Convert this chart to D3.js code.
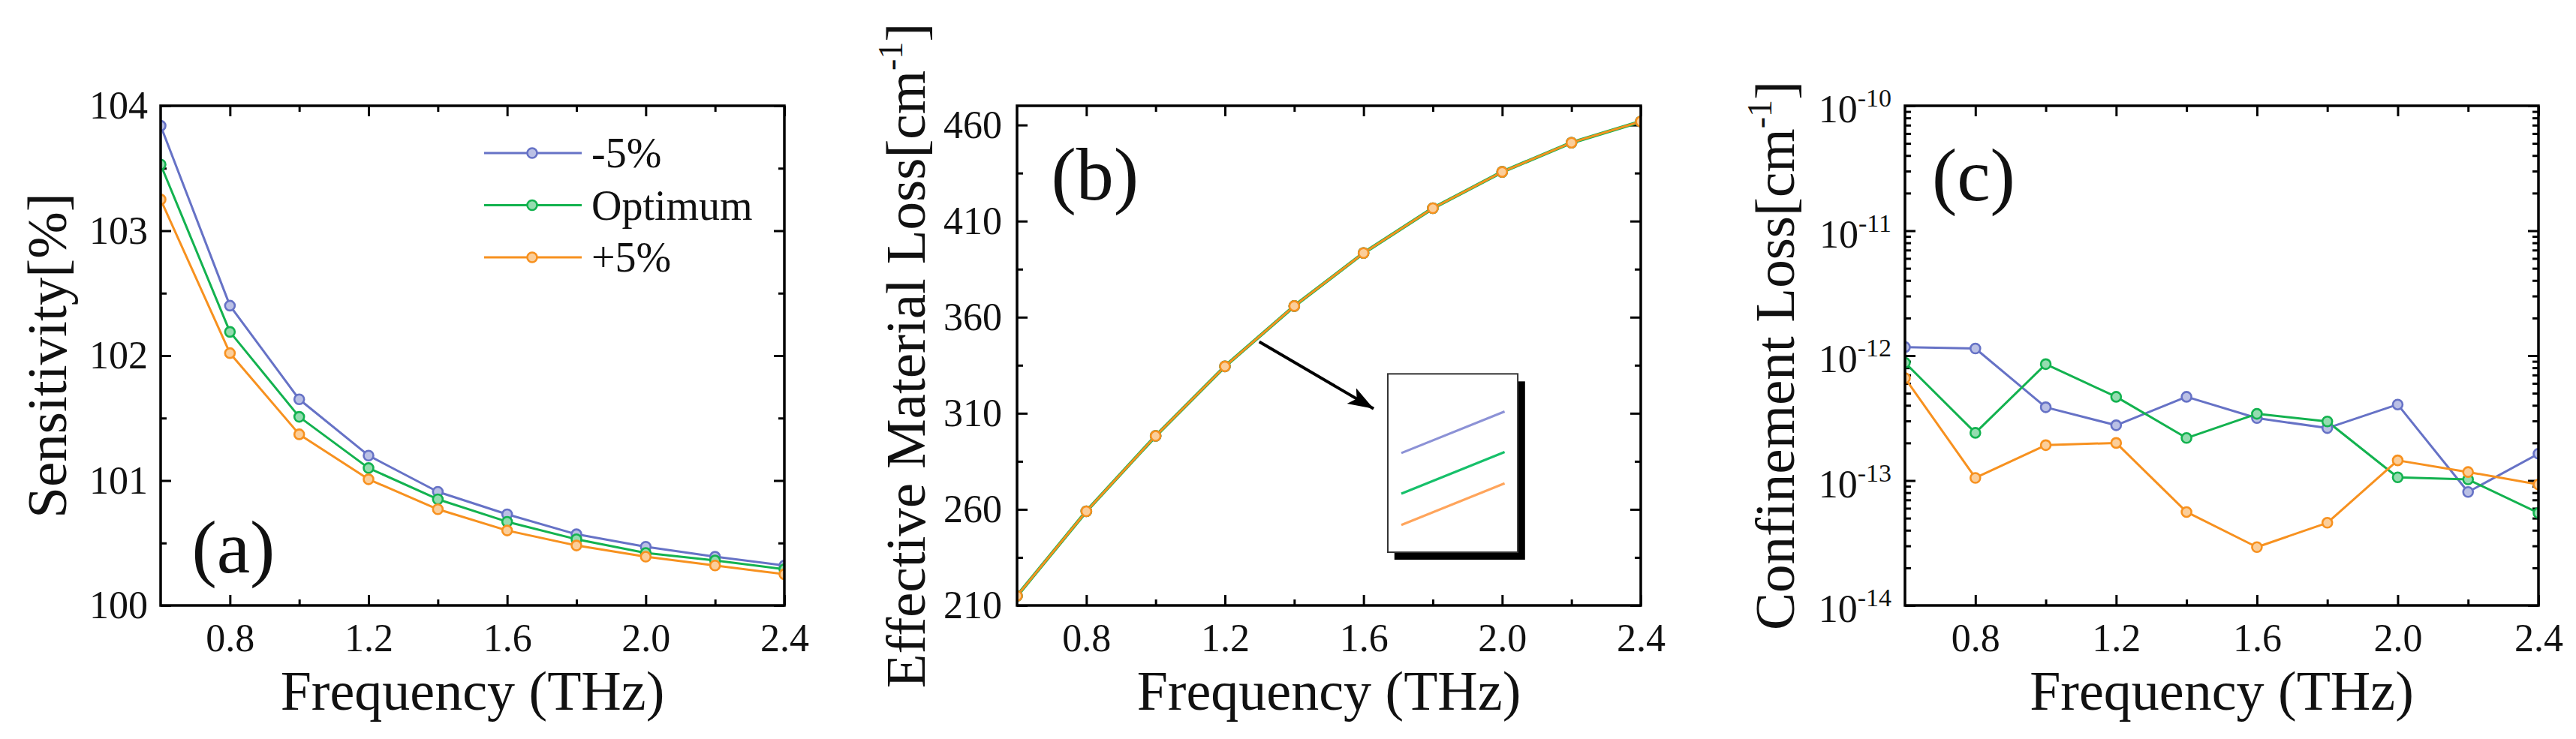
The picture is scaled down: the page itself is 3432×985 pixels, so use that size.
<!DOCTYPE html>
<html>
<head>
<meta charset="utf-8">
<script src="https://cdn.jsdelivr.net/npm/d3@7"></script>
<style>
  body { margin: 0; background: #fff; }
  text { font-family: "Liberation Serif", "Times New Roman", "DejaVu Serif", serif; fill: #111; }
</style>
</head>
<body>
<script>
// ---- data ----
const freq = [0.6, 0.8, 1.0, 1.2, 1.4, 1.6, 1.8, 2.0, 2.2, 2.4];
const seriesNames = ["-5%", "Optimum", "+5%"];
const seriesColors = ["#6672c6", "#13b24f", "#f7911f"];

// (a) sensitivity [%]
const sensMinus5 = [103.84, 102.40, 101.65, 101.20, 100.91, 100.73, 100.57, 100.47, 100.39, 100.32];
const sensOptimum = [103.53, 102.19, 101.51, 101.10, 100.85, 100.67, 100.53, 100.42, 100.36, 100.29];
const sensPlus5 = [103.25, 102.02, 101.37, 101.01, 100.77, 100.60, 100.48, 100.39, 100.32, 100.25];

// (b) effective material loss [cm^-1] (the three curves overlap)
const emlMinus5 = [215.0, 259.0, 298.2, 334.4, 365.8, 393.4, 416.7, 435.6, 450.8, 461.8];
const emlOptimum = [215.0, 259.0, 298.2, 334.4, 365.8, 393.4, 416.7, 435.6, 450.8, 461.8];
const emlPlus5 = [215.0, 259.0, 298.2, 334.4, 365.8, 393.4, 416.7, 435.6, 450.8, 461.8];

// (c) confinement loss [cm^-1]
const clMinus5 = [1.17e-12, 1.14e-12, 3.86e-13, 2.77e-13, 4.68e-13, 3.16e-13, 2.63e-13, 4.06e-13, 8.1e-14, 1.64e-13];
const clOptimum = [8.77e-13, 2.41e-13, 8.55e-13, 4.68e-13, 2.19e-13, 3.42e-13, 2.97e-13, 1.06e-13, 1.02e-13, 5.5e-14];
const clPlus5 = [6.6e-13, 1.05e-13, 1.92e-13, 2.0e-13, 5.6e-14, 2.93e-14, 4.59e-14, 1.45e-13, 1.17e-13, 9.3e-14];

// tick values
const xMajor = [0.8, 1.2, 1.6, 2.0, 2.4];
const xMinor = [1.0, 1.4, 1.8, 2.2];
const sensMajor = [100, 101, 102, 103, 104];
const sensMinor = [100.5, 101.5, 102.5, 103.5];
const emlMajor = [210, 260, 310, 360, 410, 460];
const emlMinor = [235, 285, 335, 385, 435];
const clMajor = [1e-14, 1e-13, 1e-12, 1e-11, 1e-10];

// ---- layout ----
const W = 3432, H = 985;
const plotTop = 141, plotBottom = 807;
const font = "Liberation Serif";

const svg = d3.select("body").append("svg")
    .attr("width", W)
    .attr("height", H);

const defs = svg.append("defs");
defs.append("marker")
    .attr("id", "arrowhead")
    .attr("markerUnits", "userSpaceOnUse")
    .attr("markerWidth", 36)
    .attr("markerHeight", 28)
    .attr("refX", 34)
    .attr("refY", 14)
    .attr("orient", "auto")
    .append("path")
    .attr("d", "M0,2 L34,14 L0,26 L8,14 Z")
    .attr("fill", "#000");

//Builds one panel and returns its scales
const buildPanel = (cfg) => {
    const g = svg.append("g");
    const x = d3.scaleLinear().domain([0.6, 2.4]).range([cfg.left, cfg.right]);
    const y = (cfg.log ? d3.scaleLog() : d3.scaleLinear())
        .domain(cfg.yDomain)
        .range([plotBottom, plotTop]);

    //Clip so the edge markers are cut by the frame like in the original
    defs.append("clipPath").attr("id", "clip-" + cfg.id)
        .append("rect")
        .attr("x", cfg.left).attr("y", plotTop)
        .attr("width", cfg.right - cfg.left).attr("height", plotBottom - plotTop);

    //Helper: add an axis and style it
    const addAxis = (axis, tx, ty) => {
        const a = g.append("g")
            .attr("transform", `translate(${tx},${ty})`)
            .call(axis);
        a.select(".domain").remove();
        a.selectAll(".tick line").attr("stroke", "#000").attr("stroke-width", 3);
        a.attr("font-family", font).attr("font-size", 52);
        a.selectAll(".tick text").attr("fill", "#111");
        return a;
    };

    const blank = () => "";
    // bottom / top x ticks
    addAxis(d3.axisBottom(x).tickValues(xMajor).tickSize(-14).tickSizeOuter(0)
        .tickPadding(24).tickFormat(d3.format(".1f")), 0, plotBottom);
    addAxis(d3.axisBottom(x).tickValues(xMinor).tickSize(-8).tickSizeOuter(0).tickFormat(blank), 0, plotBottom);
    addAxis(d3.axisTop(x).tickValues(xMajor).tickSize(-14).tickSizeOuter(0).tickFormat(blank), 0, plotTop);
    addAxis(d3.axisTop(x).tickValues(xMinor).tickSize(-8).tickSizeOuter(0).tickFormat(blank), 0, plotTop);

    // left / right y ticks
    const leftMajor = addAxis(d3.axisLeft(y).tickValues(cfg.yMajor).tickSize(-14).tickSizeOuter(0)
        .tickPadding(cfg.labelPad).tickFormat(cfg.log ? blank : d3.format("d")), cfg.left, 0);
    addAxis(d3.axisLeft(y).tickValues(cfg.yMinor).tickSize(-8).tickSizeOuter(0).tickFormat(blank), cfg.left, 0);
    addAxis(d3.axisRight(y).tickValues(cfg.yMajor).tickSize(-14).tickSizeOuter(0).tickFormat(blank), cfg.right, 0);
    addAxis(d3.axisRight(y).tickValues(cfg.yMinor).tickSize(-8).tickSizeOuter(0).tickFormat(blank), cfg.right, 0);

    if (cfg.log) {
        //Powers of ten with a raised exponent
        leftMajor.selectAll(".tick text").each(function (d) {
            const t = d3.select(this).text(null).attr("dy", "0.42em");
            t.append("tspan").text("10");
            t.append("tspan").attr("dy", "-0.62em").attr("font-size", 34)
                .text(Math.round(Math.log10(d)));
        });
    }

    //Series lines and markers
    const plot = g.append("g").attr("clip-path", `url(#clip-${cfg.id})`);
    const line = d3.line().x(d => x(d[0])).y(d => y(d[1]));
    cfg.series.forEach((vals, i) => {
        const pts = freq.map((f, j) => [f, vals[j]]);
        plot.append("path")
            .datum(pts)
            .attr("fill", "none")
            .attr("stroke", seriesColors[i])
            .attr("stroke-width", cfg.lineWidths ? cfg.lineWidths[i] : 3)
            .attr("stroke-linejoin", "round")
            .attr("d", line);
    });
    cfg.series.forEach((vals, i) => {
        const c = seriesColors[i];
        plot.append("g").selectAll("circle")
            .data(freq.map((f, j) => [f, vals[j]]))
            .join("circle")
            .attr("cx", d => x(d[0]))
            .attr("cy", d => y(d[1]))
            .attr("r", 6.5)
            .attr("fill", d3.interpolateRgb(c, "#fff")(0.55))
            .attr("stroke", c)
            .attr("stroke-width", 2.6);
    });

    //Frame
    g.append("rect")
        .attr("x", cfg.left).attr("y", plotTop)
        .attr("width", cfg.right - cfg.left).attr("height", plotBottom - plotTop)
        .attr("fill", "none").attr("stroke", "#000").attr("stroke-width", 3.5);

    //Axis titles
    g.append("text")
        .attr("x", (cfg.left + cfg.right) / 2).attr("y", 946)
        .attr("text-anchor", "middle").attr("font-size", 74)
        .text("Frequency (THz)");

    const yt = g.append("text")
        .attr("transform", `translate(${cfg.titleX},${(plotTop + plotBottom) / 2}) rotate(-90)`)
        .attr("text-anchor", "middle").attr("font-size", 75);
    yt.append("tspan").text(cfg.title);
    if (cfg.titleSup) {
        yt.append("tspan").attr("dy", -30).attr("font-size", 46).text(cfg.titleSup);
        yt.append("tspan").attr("dy", 30).text("]");
    }

    //Panel letter
    g.append("text")
        .attr("x", x(cfg.tag[1])).attr("y", y(cfg.tag[2]))
        .attr("dy", "0.33em")
        .attr("text-anchor", "middle").attr("font-size", 100)
        .text(cfg.tag[0]);

    return { g, x, y };
};

// (a)
const pa = buildPanel({
    id: "a", left: 214, right: 1045, yDomain: [100, 104],
    yMajor: sensMajor, yMinor: sensMinor, labelPad: 17,
    series: [sensMinus5, sensOptimum, sensPlus5],
    title: "Sensitivity[%]", titleX: 88,
    tag: ["(a)", 0.81, 100.46]
});

//Legend of (a)
const legend = pa.g.append("g");
seriesNames.forEach((name, i) => {
    const ly = plotTop + 63 + i * 69.5;
    const c = seriesColors[i];
    legend.append("line")
        .attr("x1", 645).attr("x2", 775).attr("y1", ly).attr("y2", ly)
        .attr("stroke", c).attr("stroke-width", 3);
    legend.append("circle")
        .attr("cx", 709).attr("cy", ly).attr("r", 6.5)
        .attr("fill", d3.interpolateRgb(c, "#fff")(0.55))
        .attr("stroke", c).attr("stroke-width", 2.6);
    legend.append("text")
        .attr("x", 788).attr("y", ly).attr("dy", "0.34em")
        .attr("font-size", 56)
        .text(name);
});

// (b)
const pb = buildPanel({
    id: "b", left: 1355, right: 2186, yDomain: [210, 470],
    yMajor: emlMajor, yMinor: emlMinor, labelPad: 20,
    series: [emlMinus5, emlOptimum, emlPlus5], lineWidths: [3, 4.6, 3],
    title: "Effective Material Loss[cm", titleSup: "-1", titleX: 1232,
    tag: ["(b)", 0.825, 434]
});

//Zoomed inset sketch with its arrow
const bx = pb.x, by = pb.y;
pb.g.append("rect")
    .attr("x", bx(1.689)).attr("y", by(326.6))
    .attr("width", bx(2.066) - bx(1.689)).attr("height", by(233.8) - by(326.6))
    .attr("fill", "#000");
pb.g.append("rect")
    .attr("x", bx(1.670)).attr("y", by(330.5))
    .attr("width", bx(2.045) - bx(1.670)).attr("height", by(237.7) - by(330.5))
    .attr("fill", "#fff").attr("stroke", "#333").attr("stroke-width", 2);
const insetColors = ["#8c92d6", "#16c06a", "#ffa55c"];
[[289.3, 310.9], [268.2, 289.8], [251.9, 273.5]].forEach((seg, i) => {
    pb.g.append("line")
        .attr("x1", bx(1.709)).attr("y1", by(seg[0]))
        .attr("x2", bx(2.007)).attr("y2", by(seg[1]))
        .attr("stroke", insetColors[i]).attr("stroke-width", 3.2);
});
pb.g.append("line")
    .attr("x1", bx(1.299)).attr("y1", by(347.2))
    .attr("x2", bx(1.629)).attr("y2", by(312.4))
    .attr("stroke", "#000").attr("stroke-width", 4)
    .attr("marker-end", "url(#arrowhead)");

// (c)
const clMinor = [];
clMajor.slice(0, -1).forEach(p => d3.range(2, 10).forEach(k => clMinor.push(p * k)));
buildPanel({
    id: "c", left: 2538, right: 3382, yDomain: [1e-14, 1e-10], log: true,
    yMajor: clMajor, yMinor: clMinor, labelPad: 18,
    series: [clMinus5, clOptimum, clPlus5],
    title: "Confinement Loss[cm", titleSup: "-1", titleX: 2390,
    tag: ["(c)", 0.795, Math.pow(10, -10.56)]
});
</script>
</body>
</html>
